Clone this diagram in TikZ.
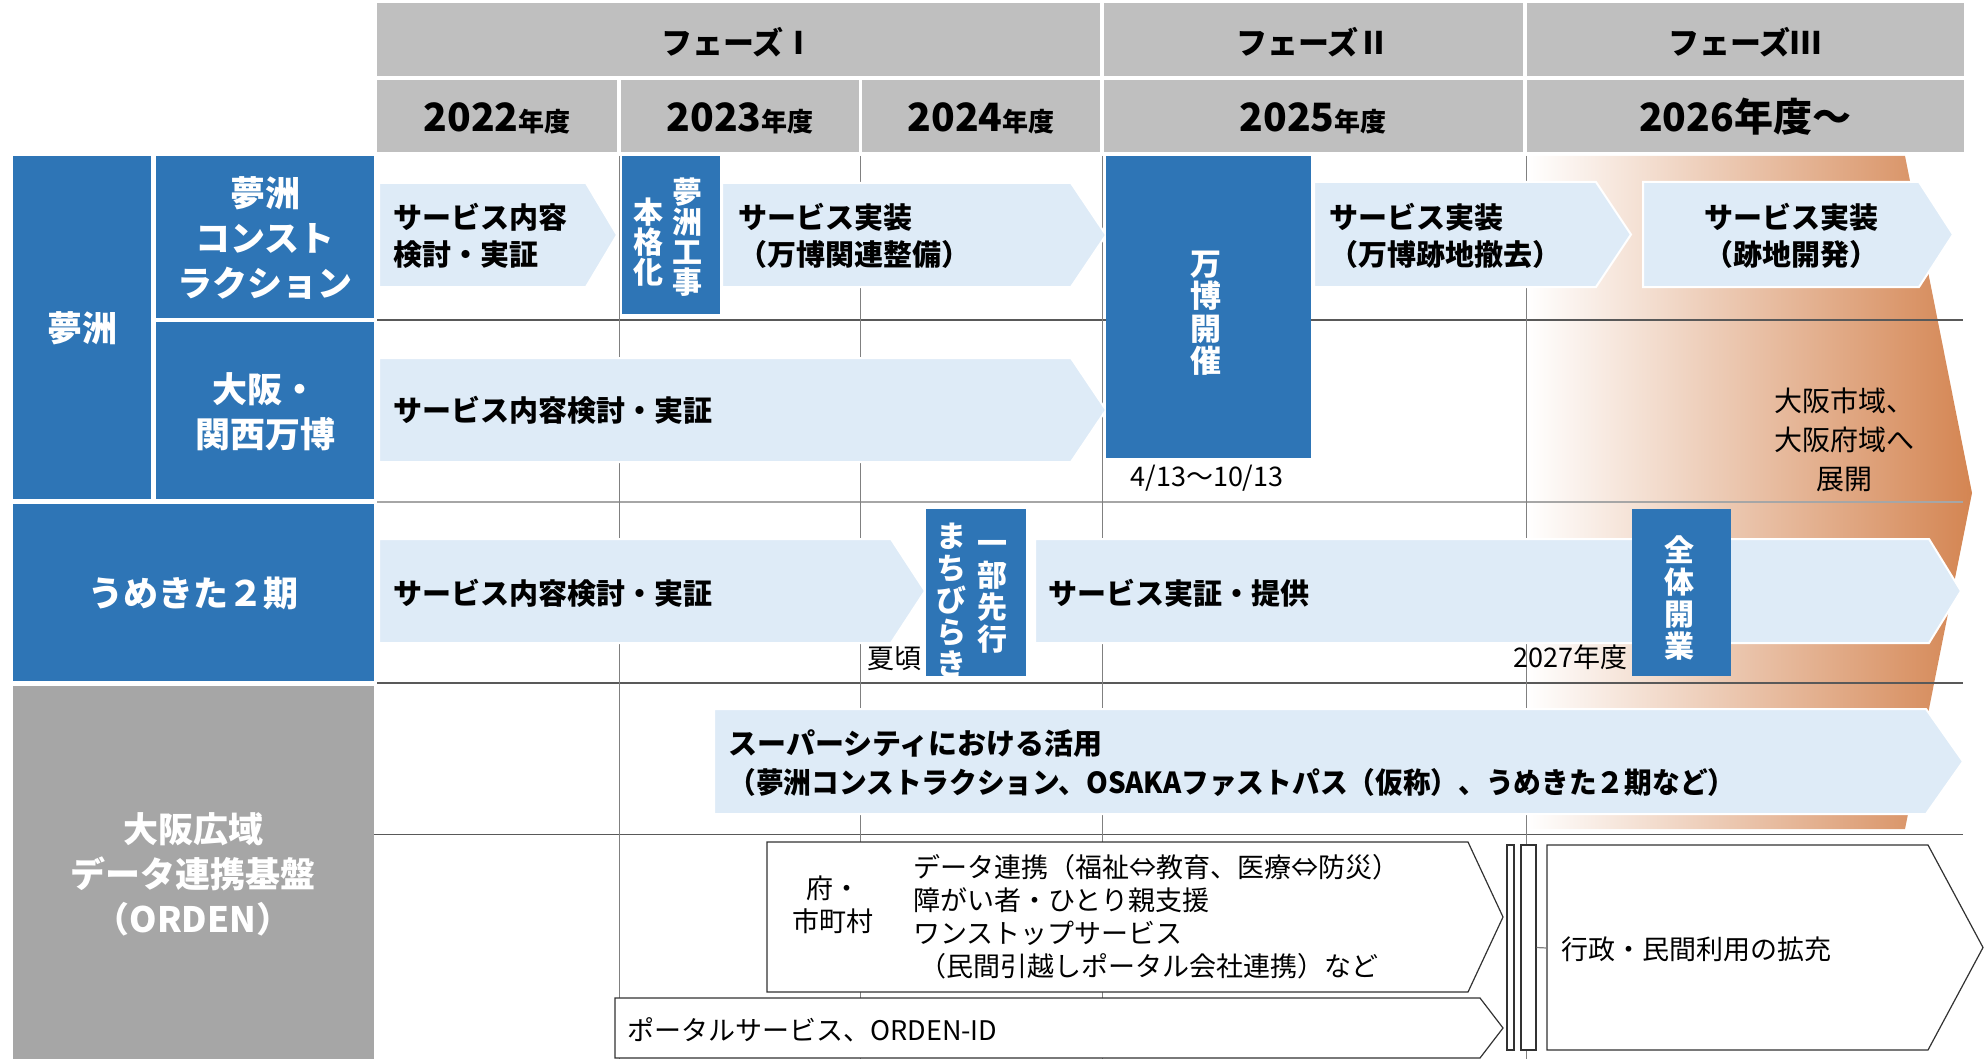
\documentclass[tikz,border=0pt]{standalone}
\usepackage{fontspec}
\setmainfont{Noto Sans CJK JP}
\definecolor{hdrgray}{RGB}{191,191,191}
\definecolor{myblue}{RGB}{46,117,182}
\definecolor{lightblue}{RGB}{222,235,247}
\definecolor{ordgray}{RGB}{166,166,166}
\definecolor{myorange}{RGB}{212,133,82}
\definecolor{gridgray}{RGB}{128,128,128}
\definecolor{darkline}{RGB}{89,89,89}
\definecolor{midgray}{RGB}{166,166,166}
\definecolor{boxline}{RGB}{50,50,50}
\newcommand\fsz[2]{\fontsize{#1pt}{#2pt}\selectfont}
\newcommand\pentagon[6]{\path[#1] (#2,#3) -- (#4,#3) -- (#5,{(#3+#6)/2}) -- (#4,#6) -- (#2,#6) -- cycle;}
\begin{document}
\begin{tikzpicture}[x=0.5pt,y=-0.5pt,
  arr/.style={fill=lightblue, draw=white, line width=1pt},
  obox/.style={fill=white, draw=boxline, line width=0.6pt},
  bt/.style={font=\bfseries\fsz{14.5}{18.5}, inner sep=0pt, text=black},
  wt/.style={font=\bfseries\fsz{17.5}{22.5}, inner sep=0pt, text=white, align=center},
  vt/.style={font=\bfseries\fsz{15}{16}, inner sep=0pt, text=white, align=center},
  nt/.style={font=\fsz{13.5}{16.5}, inner sep=0pt, text=black},
  hd/.style={font=\bfseries\fsz{15.5}{18}, inner sep=0pt},
  yr/.style={font=\bfseries\fsz{19.5}{20}, inner sep=0pt, anchor=base},
]
\useasboundingbox (0,0) rectangle (1984,1059);
% header cells
\fill[hdrgray] (377,3) rectangle (1100,76);
\fill[hdrgray] (1104,3) rectangle (1523,76);
\fill[hdrgray] (1527,3) rectangle (1964,76);
\fill[hdrgray] (377,80) rectangle (617,152);
\fill[hdrgray] (621,80) rectangle (859,152);
\fill[hdrgray] (862,80) rectangle (1100,152);
\fill[hdrgray] (1104,80) rectangle (1523,152);
\fill[hdrgray] (1527,80) rectangle (1964,152);
% left blocks
\fill[myblue] (13,156) rectangle (151,499);
\fill[myblue] (156,156) rectangle (374,318);
\fill[myblue] (156,322) rectangle (374,499);
\fill[myblue] (13,504) rectangle (374,681);
\fill[ordgray] (13,686) rectangle (374,1059);
% orange expansion
\shade[left color=white, right color=myorange] (1527,156) -- (1905,156) -- (1972,493) -- (1905,829) -- (1527,829) -- cycle;
% grid
\draw[darkline, line width=0.6pt] (377,320) -- (1963,320);
\draw[midgray, line width=1.3pt] (377,502) -- (1963,502);
\draw[darkline, line width=0.6pt] (377,683) -- (1963,683);
\draw[darkline, line width=0.6pt] (374,834.5) -- (1963,834.5);
\foreach \x in {619,860,1102,1526} \draw[gridgray, line width=0.5pt] (\x,156) -- (\x,1059);
% light blue arrows
\pentagon{arr}{379}{183}{586}{617}{287}
\pentagon{arr}{722}{183}{1071}{1106}{287}
\pentagon{arr}{379}{358}{1071}{1106}{462}
\pentagon{arr}{1314}{182}{1596}{1631}{287}
\pentagon{arr}{1643}{182}{1919}{1953}{287}
\pentagon{arr}{379}{539}{891}{925}{643}
\pentagon{arr}{1035}{539}{1929}{1961}{643}
\pentagon{arr}{714}{709}{1926}{1963}{814}
% blue milestone boxes
\fill[myblue] (622,156) rectangle (720,314);
\fill[myblue] (1106,156) rectangle (1311,458);
\fill[myblue] (1632,509) rectangle (1731,676);
\begin{scope}
\clip (926,509) rectangle (1026,676);
\fill[myblue] (926,509) rectangle (1026,676);
\node[vt] (b3r) at (992,597) {一\\部\\先\\行};
\node[vt] (b3l) at (951,600) {ま\\ち\\び\\ら\\き};
\end{scope}
% bottom boxes
\pentagon{obox}{767}{842}{1468}{1503}{992}
\pentagon{obox}{615}{998}{1480}{1503}{1058}
\pentagon{obox}{1547}{845}{1928}{1983}{1050}
\node[obox, inner sep=0pt, minimum width=3.5pt, minimum height=102.5pt] (bar1) at (1510.5,947.5) {};
\node[obox, inner sep=0pt, minimum width=7.5pt, minimum height=102.5pt] (bar2) at (1528.5,947.5) {};
\coordinate (gleft) at (1547,948);
\draw[gridgray, line width=0.6pt] (bar2.east) -- (gleft);
% header texts
\node[hd] (p1) at (738,42) {フェーズⅠ};
\node[hd] (p2) at (1313,42) {フェーズⅡ};
\node[hd] (p3) at (1745,42) {フェーズⅢ};
\node[yr] (y22) at (497,132) {2022{\fsz{13}{13}年度}};
\node[yr] (y23) at (740,132) {2023{\fsz{13}{13}年度}};
\node[yr] (y24) at (981,132) {2024{\fsz{13}{13}年度}};
\node[yr] (y25) at (1313,132) {2025{\fsz{13}{13}年度}};
\node[yr] (y26) at (1745,132) {2026年度〜};
% left labels
\node[wt] (l1) at (82,328) {夢洲};
\node[wt] (l2) at (265,238) {夢洲\\コンスト\\ラクション};
\node[wt] (l3) at (265,412) {大阪・\\関西万博};
\node[wt] (l4) at (193,593) {うめきた２期};
\node[wt] (l5) at (193,874) {大阪広域\\データ連携基盤\\（ORDEN）};
% arrow texts
\node[bt, anchor=west, align=left] (a1t) at (393,236) {サービス内容\\検討・実証};
\node[bt, anchor=west, align=left] (a2t) at (738,236) {サービス実装\\（万博関連整備）};
\node[bt, anchor=west] (a3t) at (393,410) {サービス内容検討・実証};
\node[bt, anchor=west, align=left] (a4t) at (1329,236) {サービス実装\\（万博跡地撤去）};
\node[bt, align=center] (a5t) at (1791,236) {サービス実装\\（跡地開発）};
\node[bt, anchor=west] (a6t) at (393,593) {サービス内容検討・実証};
\node[bt, anchor=west] (a7t) at (1048,593) {サービス実証・提供};
\node[bt, anchor=west, align=left, font=\bfseries\fsz{14.5}{19.5}] (a8t) at (728,763) {スーパーシティにおける活用\\{\addfontfeature{FakeStretch=0.955}（夢洲コンストラクション、OSAKAファストパス（仮称）、うめきた２期など）}};
% vertical texts
\node[vt, font=\bfseries\fsz{15}{15}] (b1r) at (687,237) {夢\\洲\\工\\事};
\node[vt, font=\bfseries\fsz{15}{15}] (b1l) at (648,242) {本\\格\\化};
\node[vt, font=\bfseries\fsz{15.5}{16.25}] (b2) at (1206,313) {万\\博\\開\\催};
\node[vt] (b4) at (1679,598) {全\\体\\開\\業};
% small notes
\node[nt] (d1) at (1207,478) {4/13〜10/13};
\node[nt, font=\fsz{14}{19.5}, align=center] (ex) at (1844,440) {大阪市域、\\大阪府域へ\\展開};
\node[nt] (n1) at (894,659) {夏頃};
\node[nt, anchor=east] (n2) at (1628,657) {2027年度};
% bottom texts
\node[nt, align=center] (fu) at (833,905) {府・\\市町村};
\node[nt, align=left, anchor=west] (items) at (913,917) {データ連携（福祉⇔教育、医療⇔防災）\\障がい者・ひとり親支援\\ワンストップサービス\\\hspace*{3pt}（民間引越しポータル会社連携）など};
\node[nt, anchor=west] (portal) at (627,1030) {ポータルサービス、ORDEN-ID};
\node[nt, anchor=west] (gyosei) at (1561,949) {行政・民間利用の拡充};
\end{tikzpicture}
\end{document}
